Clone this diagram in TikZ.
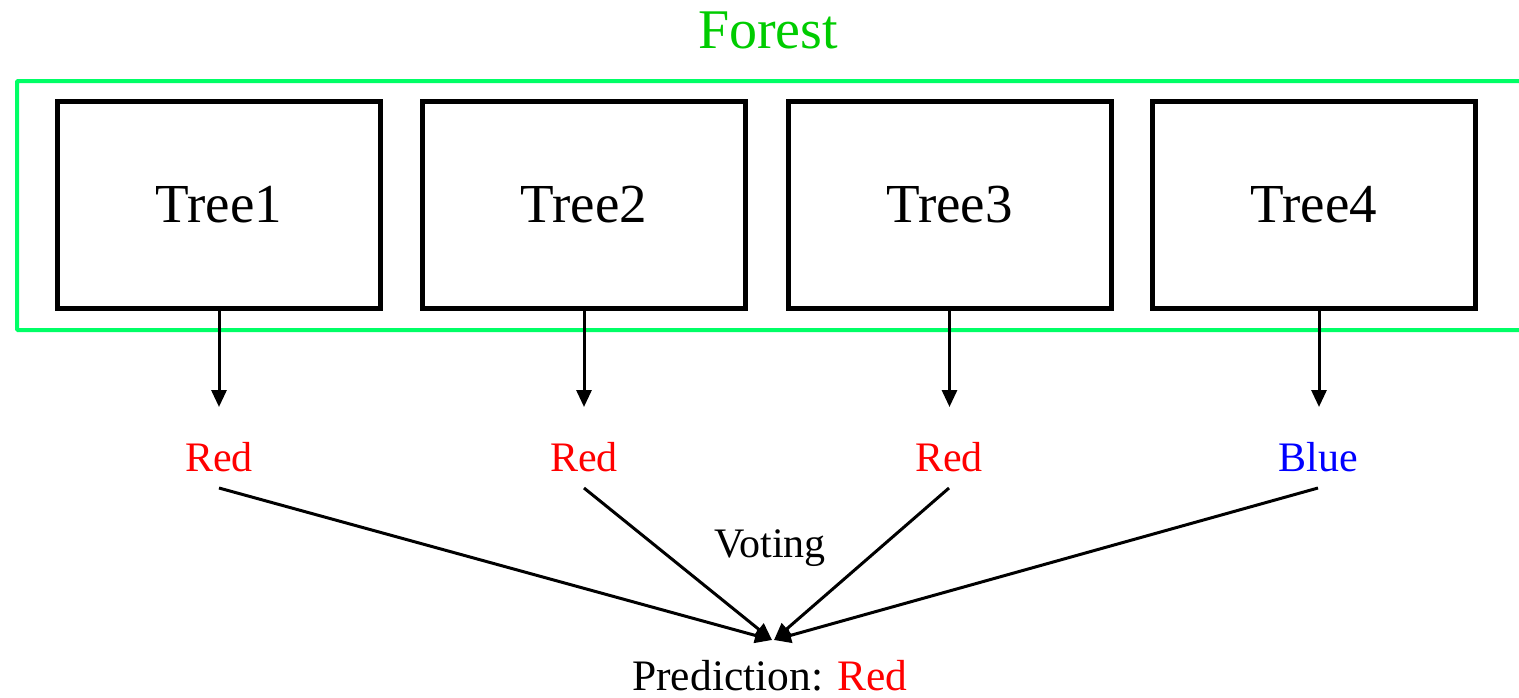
\documentclass[tikz,border=0pt]{standalone}
\usepackage{fontspec}
\setmainfont{Liberation Serif}
\usetikzlibrary{arrows.meta}
\definecolor{boxgreen}{RGB}{0,255,102}
\definecolor{titlegreen}{RGB}{0,204,0}
\begin{document}
\begin{tikzpicture}[x=1pt,y=-1pt,
  treebox/.style={draw=black,line width=5pt,minimum width=323pt,minimum height=207pt,inner sep=0pt,font=\fontsize{55}{60}\selectfont},
  lab/.style={inner sep=0pt,font=\fontsize{42}{48}\selectfont},
  arr/.style={line width=3pt,-{Triangle[length=17pt,width=15pt]}},
  vote/.style={line width=3pt,-{Triangle[length=17pt,width=15pt]}}]
\clip (0,0) rectangle (1519,697);
\useasboundingbox (0,0) rectangle (1519,697);
\draw[boxgreen,line width=4pt,rounded corners=1pt] (1560,81) -- (17,81) -- (17,330) -- (1560,330);
\node[lab,font=\fontsize{56}{60}\selectfont,text=titlegreen] (forest) at (768,30) {Forest};
\node[treebox] (t1) at (219,205) {Tree1};
\node[treebox] (t2) at (584,205) {Tree2};
\node[treebox] (t3) at (949.5,205) {Tree3};
\node[treebox] (t4) at (1314,205) {Tree4};
\coordinate (a1) at (219,407);
\coordinate (a2) at (584,407);
\coordinate (a3) at (949.5,407);
\coordinate (a4) at (1319,407);
\draw[arr] (t1.south) -- (a1);
\draw[arr] (t2.south) -- (a2);
\draw[arr] (t3.south) -- (a3);
\draw[arr] (t4.south -| a4) -- (a4);
\node[lab,text=red] (r1) at (219,457) {Red};
\node[lab,text=red] (r2) at (584,457) {Red};
\node[lab,text=red] (r3) at (949,457) {Red};
\node[lab,text=blue] (r4) at (1318,457) {Blue};
\coordinate (s1) at (219,488);
\coordinate (s2) at (584,488);
\coordinate (s3) at (949,488);
\coordinate (s4) at (1318,488);
\coordinate (e1) at (772,640);
\coordinate (e2) at (774,640);
\node[lab] (voting) at (770,548) {Voting};
\node[lab,font=\fontsize{43.5}{48}\selectfont] (pred) at (770,676) {Prediction: \textcolor{red}{Red}};
\draw[vote] (s1) -- (e1);
\draw[vote] (s2) -- (e1);
\draw[vote] (s3) -- (e2);
\draw[vote] (s4) -- (e2);
\end{tikzpicture}
\end{document}
